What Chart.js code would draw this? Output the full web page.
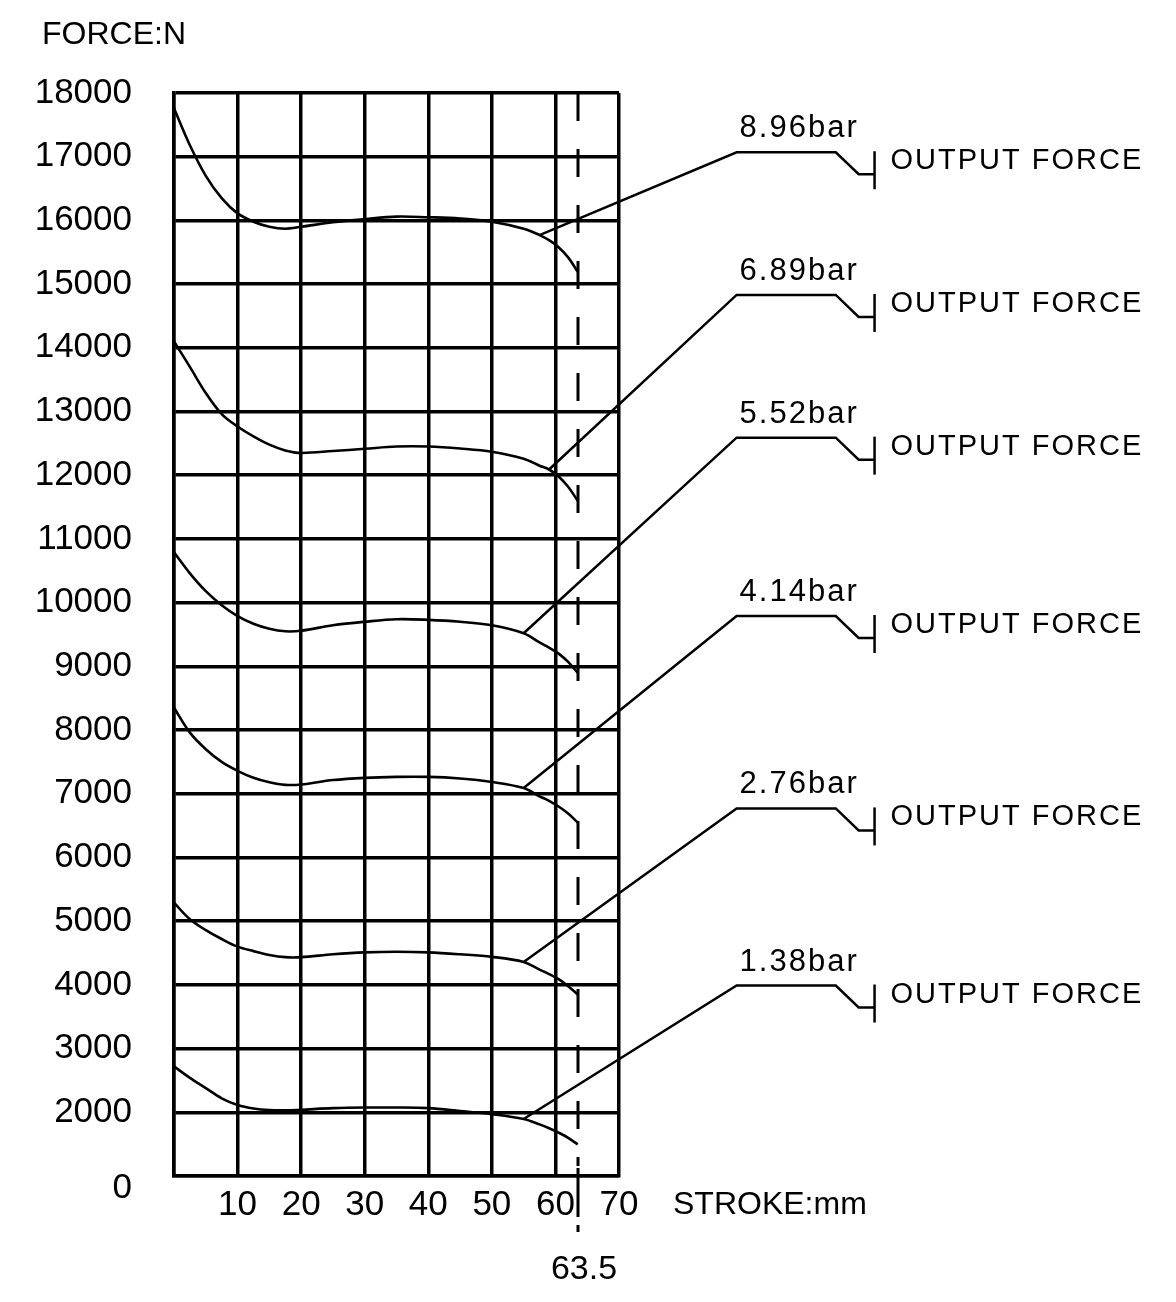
<!DOCTYPE html>
<html>
<head>
<meta charset="utf-8">
<script src="https://cdn.jsdelivr.net/npm/chart.js@4/dist/chart.umd.min.js"></script>
<style>
  html, body { margin: 0; padding: 0; background: #fff; }
  #wrap { width: 1176px; height: 1302px; position: relative; }
</style>
</head>
<body>
<div id="wrap"><canvas id="c"></canvas></div>
<script>
// ---- data ----
const strokeMm = [0, 2.5, 5, 7.5, 10, 12.5, 15, 17.5, 20, 25, 30, 35, 40, 45, 50, 55, 57.5, 59, 60.5, 62, 63.5];
const pressureLabels = ['8.96bar', '6.89bar', '5.52bar', '4.14bar', '2.76bar', '1.38bar'];
const force896 = [17760, 17180, 16700, 16350, 16110, 15980, 15900, 15870, 15900, 15970, 16020, 16060, 16050, 16030, 15980, 15870, 15770, 15690, 15580, 15420, 15195];
const force689 = [14100, 13700, 13290, 12960, 12765, 12610, 12480, 12390, 12350, 12380, 12415, 12450, 12450, 12420, 12370, 12260, 12150, 12090, 11980, 11820, 11600];
const force552 = [10790, 10460, 10180, 9960, 9790, 9670, 9590, 9550, 9560, 9645, 9700, 9740, 9730, 9700, 9645, 9520, 9375, 9295, 9200, 9070, 8900];
const force414 = [8350, 7960, 7700, 7500, 7360, 7250, 7180, 7140, 7145, 7215, 7250, 7265, 7265, 7240, 7185, 7090, 6960, 6890, 6800, 6690, 6550];
const force276 = [5290, 5030, 4860, 4720, 4600, 4530, 4470, 4435, 4435, 4480, 4510, 4520, 4510, 4480, 4440, 4360, 4240, 4170, 4090, 3980, 3850];
const force138 = [2720, 2540, 2380, 2220, 2115, 2060, 2035, 2030, 2040, 2065, 2075, 2075, 2065, 2020, 1970, 1895, 1810, 1750, 1680, 1600, 1495];
const seriesForces = [force896, force689, force552, force414, force276, force138];
const strokeLimit = 63.5;                       // dashed stroke-end line
const leaderAnchorStroke = [57.5, 59, 55, 55, 55, 55];  // where each callout touches its curve
const labelForce = [17070, 14830, 12590, 9790, 6770, 3990]; // callout shelf level
const xTicks = [10, 20, 30, 40, 50, 60, 70];
const yBottomLabel = '0';   // bottom grid line is labelled 0
const yAxisTitle = 'FORCE:N';
const xAxisTitle = 'STROKE:mm';
const calloutText = 'OUTPUT FORCE';

const FONT = "'Liberation Sans', Arial, sans-serif";

const overlay = {
  id: 'overlay',
  afterDatasetsDraw(chart) {
    const { ctx, chartArea: ca, scales: { x: xs, y: ys } } = chart;
    ctx.save();
    ctx.strokeStyle = '#000';
    ctx.fillStyle = '#000';
    ctx.lineCap = 'butt';

    // dashed stroke limit line
    const dx = Math.round(xs.getPixelForValue(strokeLimit));
    ctx.lineWidth = 3;
    ctx.setLineDash([28, 28]);
    ctx.beginPath();
    ctx.moveTo(dx, ca.top);
    ctx.lineTo(dx, ca.bottom - 10);
    ctx.stroke();
    ctx.setLineDash([]);
    ctx.beginPath();
    ctx.moveTo(dx, ca.bottom - 8); ctx.lineTo(dx, ca.bottom + 41);
    ctx.moveTo(dx, ca.bottom + 49); ctx.lineTo(dx, ca.bottom + 56);
    ctx.stroke();

    ctx.font = '34px ' + FONT;
    ctx.textAlign = 'center';
    ctx.textBaseline = 'middle';
    ctx.fillText(String(strokeLimit), dx + 6, ca.bottom + 94);

    // bottom "0" label sits a little below its grid line
    ctx.textAlign = 'right';
    ctx.font = '35px ' + FONT;
    ctx.fillText(yBottomLabel, ca.left - 42, ys.getPixelForValue(1000) + 12);

    // callouts
    const xElbow = xs.getPixelForValue(88.5);
    const xShelfEnd = xs.getPixelForValue(104.1);
    const xKnee = xs.getPixelForValue(107.7);
    const xTick = xs.getPixelForValue(110.2);
    const xText = xs.getPixelForValue(112.7);
    chart.data.datasets.forEach((ds, i) => {
      const meta = chart.getDatasetMeta(i);
      const idx = strokeMm.indexOf(leaderAnchorStroke[i]);
      const p = meta.data[idx];
      const ey = ys.getPixelForValue(labelForce[i]);
      ctx.lineWidth = 2.5;
      ctx.beginPath();
      ctx.moveTo(p.x, p.y);
      ctx.lineTo(xElbow, ey);
      ctx.lineTo(xShelfEnd, ey);
      ctx.lineTo(xKnee, ey + 22);
      ctx.lineTo(xTick, ey + 22);
      ctx.stroke();
      ctx.beginPath();
      ctx.moveTo(xTick, ey - 1);
      ctx.lineTo(xTick, ey + 37);
      ctx.stroke();

      ctx.textAlign = 'left';
      ctx.textBaseline = 'alphabetic';
      ctx.font = '31px ' + FONT;
      ctx.letterSpacing = '2px';
      ctx.fillText(ds.label, xElbow + 3, ey - 15);
      ctx.textBaseline = 'middle';
      ctx.font = '29px ' + FONT;
      ctx.letterSpacing = '2px';
      ctx.fillText(calloutText, xText, ey + 9);
      ctx.letterSpacing = '0px';
    });

    // axis titles
    ctx.textAlign = 'left';
    ctx.textBaseline = 'middle';
    ctx.font = '32px ' + FONT;
    ctx.fillText(yAxisTitle, ca.left - 132, ca.top - 58);
    ctx.fillText(xAxisTitle, xs.getPixelForValue(70) + 54, ca.bottom + 29);
    ctx.restore();
  }
};

const datasets = seriesForces.map((arr, i) => ({
  label: pressureLabels[i],
  data: strokeMm.map((x, j) => ({ x: x, y: arr[j] })),
  borderColor: '#000',
  borderWidth: 2.6,
  pointRadius: 0,
  fill: false,
  tension: 0.35
}));

new Chart(document.getElementById('c'), {
  type: 'line',
  data: { datasets },
  options: {
    responsive: true,
    maintainAspectRatio: false,
    animation: false,
    events: [],
    layout: { padding: { top: 93, right: 557, left: 0, bottom: 0 } },
    plugins: { legend: { display: false }, tooltip: { enabled: false } },
    scales: {
      x: {
        type: 'linear',
        min: 0, max: 70,
        afterFit(s) { s.height = 126; },
        afterBuildTicks(s) { s.ticks = [0].concat(xTicks).map(v => ({ value: v })); },
        ticks: {
          callback: v => (xTicks.includes(v) ? String(v) : ''),
          color: '#000',
          font: { family: FONT, size: 35 },
          padding: 8,
          maxRotation: 0,
          autoSkip: false
        },
        grid: { color: '#000', lineWidth: 3.5, drawTicks: false },
        border: { color: '#000', width: 3.5 }
      },
      y: {
        type: 'linear',
        min: 1000, max: 18000,
        afterFit(s) { s.width = 174; },
        ticks: {
          stepSize: 1000,
          callback: v => (v === 1000 ? '' : String(v)),
          color: '#000',
          font: { family: FONT, size: 35 },
          padding: 42,
          crossAlign: 'near',
          autoSkip: false
        },
        grid: { color: '#000', lineWidth: 3.5, drawTicks: false },
        border: { color: '#000', width: 3.5 }
      }
    }
  },
  plugins: [overlay]
});
</script>
</body>
</html>
